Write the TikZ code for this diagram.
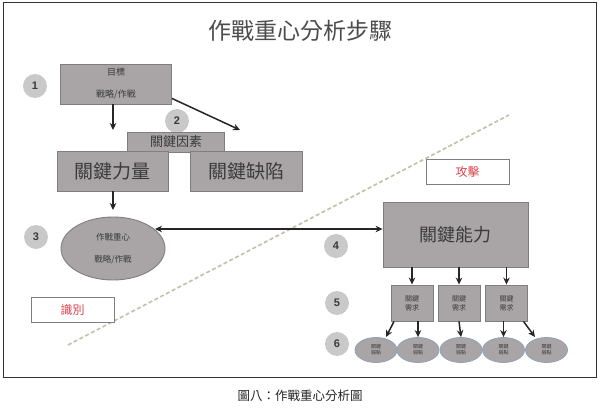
\documentclass[tikz,border=0pt]{standalone}
\usepackage{fontspec}
\setmainfont{Noto Sans CJK TC}
\setsansfont{Liberation Sans}
\usetikzlibrary{arrows.meta,shapes.geometric}
\definecolor{boxfill}{HTML}{A9A5A6}
\definecolor{boxline}{HTML}{7F7F7F}
\definecolor{txt}{HTML}{3A3A3A}
\definecolor{numfill}{HTML}{C9C9C9}
\definecolor{dashc}{HTML}{C4BFA8}
\definecolor{redtxt}{HTML}{D9434B}
\definecolor{ellline}{HTML}{8FA3B8}
\tikzset{
  graybox/.style={draw=boxline, line width=0.9pt, fill=boxfill, text=txt, inner sep=0pt, align=center},
  numcirc/.style={circle, fill=numfill, minimum size=24pt, inner sep=0pt, text=txt, font=\sffamily\bfseries\fontsize{11}{11}\selectfont},
  labbox/.style={draw=boxline, line width=0.8pt, fill=white, text=redtxt, inner sep=0pt, font=\fontsize{12}{12}\selectfont},
  arr/.style={-{Stealth[length=7pt,width=6.5pt]}, line width=1.5pt, black!85},
  smallell/.style={ellipse, draw=ellline, line width=0.8pt, fill=boxfill, minimum width=42pt, minimum height=25pt, inner sep=0pt, text=txt, align=center, font=\fontsize{5}{6}\selectfont},
  needbox/.style={graybox, minimum width=42pt, minimum height=36pt, font=\fontsize{7}{9}\selectfont}
}
\begin{document}
\begin{tikzpicture}[x=1pt,y=-1pt]
\useasboundingbox (0,0) rectangle (600,409);
\fill[white] (0,0) rectangle (600,409);
\draw[line width=1pt, black!80] (3,3) rectangle (596,377);
% dashed separator
\coordinate (d1) at (68,345);
\coordinate (d2) at (509,115);
\draw[dashc, line width=1.6pt, dash pattern=on 4pt off 2.5pt] (d1) -- (d2);
% title
\node[text=black!70, font=\fontsize{23}{23}\selectfont] (title) at (300,31) {作戰重心分析步驟};
% number circles
\node[numcirc] (n1) at (35,86) {1};
\node[numcirc] (n2) at (177,121) {2};
\node[numcirc] (n3) at (36,237) {3};
\node[numcirc] (n4) at (336,246) {4};
\node[numcirc] (n5) at (337,303) {5};
\node[numcirc] (n6) at (337,344) {6};
% top box
\node[graybox, minimum width=111pt, minimum height=40pt, font=\fontsize{9}{22}\selectfont] (goal) at (116,84) {目標\\戰略/作戰};
% 關鍵因素
\node[graybox, minimum width=97pt, minimum height=20pt, font=\fontsize{13}{13}\selectfont] (kf) at (176,142) {關鍵因素};
\node[graybox, minimum width=111pt, minimum height=40pt, font=\fontsize{19}{19}\selectfont] (ks) at (112.5,171) {關鍵力量};
\node[graybox, minimum width=112pt, minimum height=40pt, font=\fontsize{19}{19}\selectfont] (kw) at (246,171) {關鍵缺陷};
% COG ellipse
\node[ellipse, draw=boxline, line width=0.9pt, fill=boxfill, minimum width=104pt, minimum height=63pt, inner sep=0pt, text=txt, align=center, font=\fontsize{8.5}{22}\selectfont] (cog) at (113,248.5) {作戰重心\\戰略/作戰};
% critical capabilities
\node[graybox, minimum width=145pt, minimum height=65pt, font=\fontsize{18}{18}\selectfont] (cc) at (455.5,234.5) {關鍵能力};
% labels
\node[labbox, minimum width=83pt, minimum height=25pt] (atk) at (467.5,171.5) {攻擊};
\node[labbox, minimum width=83pt, minimum height=25pt] (idf) at (72.5,309.5) {識別};
% requirement boxes
\node[needbox] (r1) at (412,303) {關鍵\\需求};
\node[needbox] (r2) at (459,303) {關鍵\\需求};
\node[needbox] (r3) at (506.5,303) {關鍵\\需求};
% vulnerability ellipses
\node[smallell] (v1) at (376,350) {關鍵\\弱點};
\node[smallell] (v2) at (418,350) {關鍵\\弱點};
\node[smallell] (v3) at (461,350) {關鍵\\弱點};
\node[smallell] (v4) at (503.5,350) {關鍵\\弱點};
\node[smallell] (v5) at (546.5,350) {關鍵\\弱點};
% caption
\node[text=black!85, font=\fontsize{12.5}{12.5}\selectfont] (cap) at (300,396) {圖八：作戰重心分析圖};
% arrows
\draw[arr] (goal.south -| 113,0) -- (113,130);
\draw[arr] (goal.south east) ++(0,-6) -- (240,130);
\draw[arr] (ks.south -| 113,0) -- (113,210);
\draw[arr, {Stealth[length=7pt,width=6.5pt]}-{Stealth[length=7pt,width=6.5pt]}] (155,229) -- (cc.west |- 0,229);
\draw[arr] (cc.south -| r1.north) -- (r1.north);
\draw[arr] (cc.south -| r2.north) -- (r2.north);
\draw[arr] (cc.south -| r3.north) -- (r3.north);
\draw[arr] ([xshift=-18pt]r1.south) -- (386,337);
\draw[arr] (r1.south -| v2.north) -- (v2.north);
\draw[arr] (r2.south) -- (v3.north);
\draw[arr] (r3.south -| v4.north) -- (v4.north);
\draw[arr] ([xshift=17pt]r3.south) -- (535,337);
\end{tikzpicture}
\end{document}
